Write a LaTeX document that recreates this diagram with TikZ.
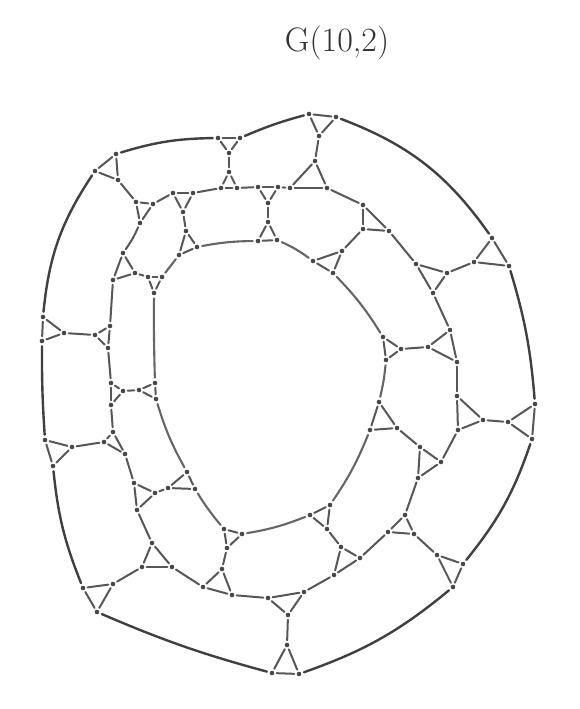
\documentclass[tikz,border=0pt]{standalone}
\begin{document}
\begin{tikzpicture}[x=1pt,y=-1pt,
  dot/.style={circle,fill=black!72,inner sep=0pt,minimum size=4.6pt},
  edge/.style={draw=black!66,line width=2pt,shorten <=2.2pt,shorten >=2.2pt,line cap=round},
  rim/.style={draw=black!75,line width=2.4pt,shorten <=2.8pt,shorten >=2.8pt,line cap=round},
  hole/.style={draw=black!60,line width=2.1pt,shorten <=2.8pt,shorten >=2.8pt,line cap=round}]
\useasboundingbox (0,0) rectangle (579,709);
\fill[white] (0,0) rectangle (579,709);
\newcommand{\mytri}[4]{%
  \node[dot] (#1a) at (#2) {};
  \node[dot] (#1b) at (#3) {};
  \node[dot] (#1c) at (#4) {};
  \draw[edge] (#1a) -- (#1b);
  \draw[edge] (#1b) -- (#1c);
  \draw[edge] (#1c) -- (#1a);}
% title
\node[text=black!80,font=\fontsize{34}{40}\selectfont] (title) at (337,43) {G(10,2)};
% outer triangles
\mytri{O1}{309,114}{336,117}{319,136}
\mytri{O2}{218,138}{240,138}{229,153}
\mytri{O3}{116,154}{95,171}{118,180}
\mytri{O4}{43,317}{42,341}{64,333}
\mytri{O5}{45,440}{53,466}{72,447}
\mytri{O6}{83,588}{97,612}{113,584}
\mytri{O7}{272,673}{299,674}{287,645}
\mytri{O8}{463,564}{453,587}{437,555}
\mytri{O9}{535,404}{532,439}{508,422}
\mytri{O10}{492,238}{509,266}{474,262}
% middle ring, spoke ends
\mytri{M1}{315,161}{290,188}{327,188}
\mytri{M2}{229,172}{221,188}{237,188}
\mytri{M3}{136,202}{153,204}{140,223}
\mytri{M4}{95,335}{110,326}{108,348}
\mytri{M5}{104,442}{113,432}{125,454}
\mytri{M6}{142,567}{172,567}{152,543}
\mytri{M7}{288,615}{268,598}{304,592}
\mytri{M8}{414,534}{388,532}{405,515}
\mytri{M9}{483,420}{457,396}{458,430}
\mytri{M10}{447,273}{416,264}{433,293}
% middle ring, inner spokes
\mytri{S1}{258,187}{278,187}{268,203}
\mytri{S2}{173,193}{193,193}{183,212}
\mytri{S3}{123,253}{113,280}{135,273}
\mytri{S4}{111,383}{111,405}{123,391}
\mytri{S5}{134,483}{137,510}{155,493}
\mytri{S6}{203,587}{232,595}{222,569}
\mytri{S7}{334,575}{360,558}{341,547}
\mytri{S8}{418,478}{441,462}{420,447}
\mytri{S9}{450,330}{457,362}{428,347}
\mytri{S10}{363,205}{389,231}{363,229}
% inner ring
\mytri{I1}{268,222}{258,241}{277,240}
\mytri{I2}{186,231}{179,255}{197,247}
\mytri{I3}{148,277}{162,277}{154,293}
\mytri{I4}{139,390}{155,383}{156,399}
\mytri{I5}{168,488}{187,472}{195,489}
\mytri{I6}{227,548}{224,529}{242,534}
\mytri{I7}{327,529}{310,515}{330,505}
\mytri{I8}{397,428}{379,402}{370,430}
\mytri{I9}{401,349}{383,337}{386,360}
\mytri{I10}{342,251}{313,261}{333,273}
% outer rim
\draw[rim] (O1b) to[bend left=17] (O10a);
\draw[rim] (O10b) to[bend left=6] (O9a);
\draw[rim] (O9b) to[bend left=10] (O8a);
\draw[rim] (O8b) to[bend left=10] (O7b);
\draw[rim] (O7a) to[bend left=4] (O6b);
\draw[rim] (O6a) to[bend left=8] (O5b);
\draw[rim] (O5a) to[bend left=2] (O4b);
\draw[rim] (O4a) to[bend left=14] (O3b);
\draw[rim] (O3a) to[bend left=8] (O2a);
\draw[rim] (O2b) to[bend left=4] (O1a);
% outer spokes
\foreach \k in {1,...,10} {\draw[edge] (O\k c) -- (M\k a);}
% middle ring
\draw[edge] (M1b) -- (S1b);
\draw[edge] (S1a) -- (M2c);
\draw[edge] (M2b) -- (S2b);
\draw[edge] (S2a) -- (M3b);
\draw[edge] (M3c) to[bend left=6] (S3a);
\draw[edge] (S3b) -- (M4b);
\draw[edge] (M4c) -- (S4a);
\draw[edge] (S4b) -- (M5b);
\draw[edge] (M5c) -- (S5a);
\draw[edge] (S5b) -- (M6c);
\draw[edge] (M6b) -- (S6a);
\draw[edge] (S6b) -- (M7b);
\draw[edge] (M7c) -- (S7a);
\draw[edge] (S7b) -- (M8b);
\draw[edge] (M8c) -- (S8a);
\draw[edge] (S8b) -- (M9c);
\draw[edge] (M9b) -- (S9b);
\draw[edge] (S9a) -- (M10c);
\draw[edge] (M10b) -- (S10b);
\draw[edge] (S10a) -- (M1c);
% inner spokes
\foreach \k in {1,...,10} {\draw[edge] (S\k c) -- (I\k a);}
% inner ring
\draw[hole] (I1c) to[bend left=6] (I10b);
\draw[hole] (I10c) to[bend left=6] (I9b);
\draw[hole] (I9c) to[bend left=4] (I8b);
\draw[hole] (I8c) to[bend left=6] (I7c);
\draw[hole] (I7b) to[bend left=6] (I6c);
\draw[hole] (I6b) to[bend left=4] (I5c);
\draw[hole] (I5b) to[bend left=6] (I4c);
\draw[hole] (I4b) to[bend left=1] (I3c);
\draw[hole] (I3b) -- (I2b);
\draw[hole] (I2c) to[bend left=5] (I1b);
\end{tikzpicture}
\end{document}
